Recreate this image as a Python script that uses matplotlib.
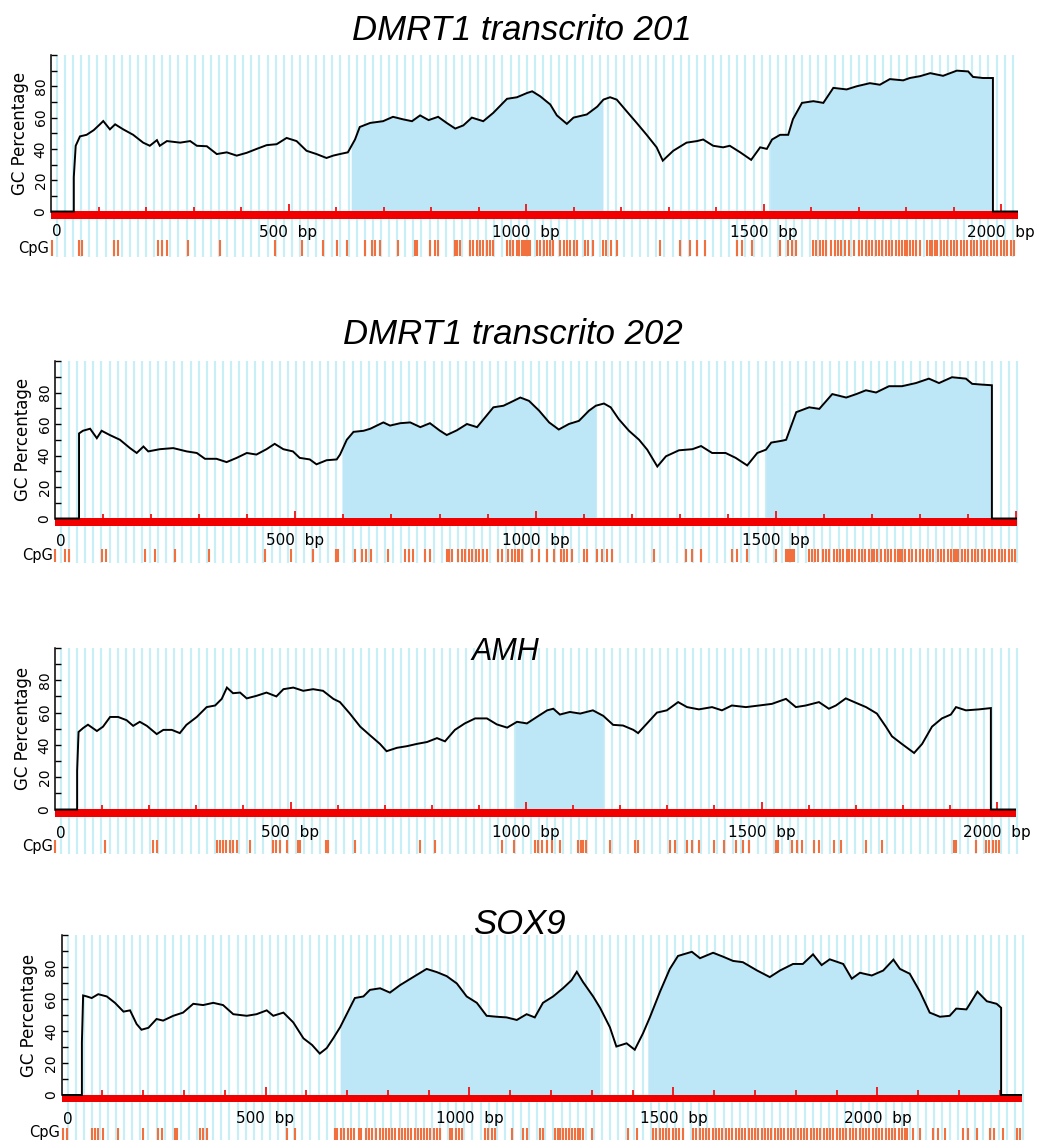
import numpy as np
import matplotlib
matplotlib.use("Agg")
import matplotlib.pyplot as plt
from matplotlib.transforms import offset_copy

W, H, DPI = 1039, 1140, 100

# ---------------- data ----------------
titles = ["DMRT1 transcrito 201", "DMRT1 transcrito 202", "AMH", "SOX9"]

# (position bp, GC %)
p1_profile = [(0, 0), (48, 0), (48, 22), (52, 42), (61, 48), (75, 49), (90, 52), (103, 55.7), (110, 57.8),
              (124, 52.5), (135, 55.7), (152, 52.5), (173, 49), (194, 44), (208, 42), (223, 45.6), (229, 42),
              (244, 45), (272, 44), (293, 45), (307, 42), (328, 41.7), (349, 36.7), (370, 37.8), (391, 35.7),
              (412, 37.5), (433, 40), (454, 42.4), (475, 43), (496, 47), (517, 45), (538, 38.8), (559, 36.7),
              (580, 34.2), (594, 35.7), (608, 36.7), (625, 37.8), (640, 46), (650, 54), (672, 56.6),
              (699, 57.7), (720, 60.5), (741, 58.9), (760, 57.7), (777, 61.4), (795, 58.4), (815, 60.5),
              (833, 56.6), (851, 53), (868, 55), (886, 60), (910, 57.7), (931, 63), (960, 72), (981, 73),
              (1002, 75.7), (1013, 76.8), (1030, 73.6), (1051, 68.4), (1065, 61.4), (1086, 56), (1100, 60),
              (1128, 62), (1150, 67), (1163, 71.5), (1177, 73), (1191, 71.5), (1212, 64), (1233, 56.6),
              (1254, 49), (1275, 41), (1288, 32.5), (1310, 38.8), (1338, 44), (1360, 45), (1373, 46),
              (1394, 42), (1415, 41), (1429, 42), (1451, 37.8), (1474, 33), (1493, 41), (1507, 40),
              (1518, 46), (1535, 49), (1552, 49), (1562, 59), (1581, 69.4), (1605, 70.5), (1626, 69.4),
              (1647, 79), (1675, 78), (1696, 80), (1724, 82), (1745, 81), (1766, 84.6), (1794, 83.8),
              (1808, 85.3), (1830, 86.5), (1851, 88.4), (1878, 86.7), (1907, 90), (1931, 89.5), (1941, 86),
              (1962, 85.3), (1983, 85.3), (1983, 0), (2035, 0)]
p1_islands = [(632, 1162), (1514, 1982)]
p1_len = 2035
p1_ticklabels = [0, 500, 1000, 1500, 2000]
p1_cpg = [2, 59, 65, 133, 142, 226, 234, 245, 289, 356, 472, 528, 573, 602, 623, 661, 675, 682, 693, 731,
          766, 771, 798, 808, 815, 851, 855, 861, 882, 889, 896, 903, 910, 917, 924, 931, 960, 966, 973,
          981, 986, 991, 996, 1001, 1005, 1008, 1023, 1030, 1037, 1044, 1051, 1057, 1072, 1079, 1086,
          1093, 1100, 1107, 1124, 1131, 1141, 1162, 1169, 1179, 1191, 1282, 1324, 1345, 1360, 1377, 1444,
          1455, 1476, 1535, 1552, 1560, 1568, 1604, 1611, 1618, 1625, 1632, 1643, 1650, 1657, 1664, 1672,
          1680, 1690, 1700, 1708, 1716, 1722, 1729, 1736, 1743, 1750, 1757, 1764, 1771, 1778, 1785, 1792,
          1797, 1802, 1808, 1815, 1822, 1830, 1845, 1850, 1855, 1860, 1866, 1873, 1880, 1887, 1894, 1901,
          1908, 1915, 1922, 1929, 1936, 1943, 1950, 1957, 1964, 1971, 1978, 1985, 1992, 1999, 2006, 2013,
          2020, 2027]

p2_profile = [(0, 0), (50, 0), (50, 54), (58, 55.7), (73, 57), (87, 51), (97, 55.7), (114, 53), (135, 50),
              (156, 44.7), (170, 41.6), (184, 45.7), (194, 42.6), (218, 44), (246, 44.7), (274, 42.6),
              (295, 41.6), (312, 37.9), (336, 37.9), (357, 35.8), (378, 38.5), (399, 41.6), (419, 40.6),
              (440, 44), (457, 47.4), (475, 44), (495, 42.6), (509, 38.5), (530, 37.5), (544, 34.4),
              (565, 37), (586, 37.5), (593, 40.6), (607, 50), (621, 55), (642, 55.7), (656, 57), (683, 61),
              (697, 59), (718, 60.5), (739, 61), (760, 58), (780, 60.5), (801, 55.7), (815, 53), (836, 56),
              (857, 60), (878, 58), (898, 65.4), (912, 70.6), (933, 71.6), (954, 74.7), (968, 76.8),
              (986, 74.7), (1007, 68.5), (1028, 61), (1048, 56.5), (1069, 60), (1090, 62), (1111, 68.5),
              (1125, 71.6), (1142, 73), (1156, 70.6), (1173, 63), (1194, 55.7), (1215, 50), (1232, 43.7),
              (1253, 33), (1271, 39.5), (1298, 43.3), (1326, 44), (1344, 46), (1367, 41.6), (1395, 41.6),
              (1416, 38.5), (1440, 33.7), (1461, 41.6), (1479, 43.7), (1490, 48.2), (1513, 49.4),
              (1521, 50), (1542, 67.5), (1569, 70.6), (1590, 69.6), (1617, 79), (1646, 76.8), (1667, 79),
              (1687, 81.4), (1708, 80), (1735, 84), (1762, 84), (1791, 86), (1818, 88.8), (1839, 86),
              (1866, 89.7), (1895, 88.8), (1908, 85.5), (1929, 85), (1949, 84.6), (1949, 0), (2001, 0)]
p2_islands = [(597, 1125), (1479, 1948)]
p2_len = 2001
p2_ticklabels = [0, 500, 1000, 1500]
p2_cpg = [0, 21, 29, 97, 106, 187, 208, 250, 321, 437, 491, 537, 585, 588, 624, 638, 647, 657, 693, 728,
          737, 745, 770, 780, 815, 820, 826, 839, 846, 853, 861, 868, 876, 883, 891, 898, 922, 930, 943,
          950, 957, 963, 965, 971, 992, 1007, 1023, 1038, 1053, 1059, 1065, 1075, 1100, 1107, 1128, 1138,
          1149, 1159, 1246, 1312, 1326, 1344, 1408, 1419, 1440, 1500, 1521, 1525, 1529, 1533, 1537, 1569,
          1575, 1581, 1587, 1597, 1604, 1611, 1620, 1626, 1633, 1640, 1647, 1651, 1658, 1665, 1672, 1679,
          1686, 1693, 1700, 1704, 1711, 1718, 1727, 1733, 1740, 1747, 1754, 1758, 1762, 1769, 1776, 1783,
          1792, 1799, 1806, 1813, 1820, 1827, 1836, 1843, 1850, 1857, 1864, 1871, 1875, 1879, 1886, 1893,
          1900, 1907, 1914, 1921, 1928, 1935, 1942, 1949, 1956, 1963, 1970, 1977, 1984, 1991, 1998]

p3_profile = [(0, 0), (47, 0), (47, 24), (50, 48), (60, 50.5), (70, 52.5), (89, 48.6), (102, 51.3),
              (117, 57.3), (134, 57.3), (152, 55.3), (166, 51.8), (180, 54.3), (195, 51.8), (216, 46.7),
              (230, 49.3), (248, 49.3), (265, 47.3), (279, 52.4), (301, 57.3), (322, 63.4), (340, 64.4),
              (354, 68.5), (365, 75.5), (378, 72), (393, 72.4), (407, 68.8), (428, 70.4), (449, 72.4),
              (470, 70), (485, 74.5), (506, 75.5), (527, 73.5), (548, 74.5), (569, 73.5), (591, 68.5),
              (605, 66.5), (626, 59.4), (648, 51.3), (669, 45.9), (690, 40.6), (704, 36.1), (726, 38.2),
              (747, 39.2), (768, 40.6), (790, 41.8), (811, 44.2), (828, 42.2), (849, 49.3), (870, 53.3),
              (892, 56.4), (917, 56.4), (938, 52.7), (960, 50.7), (981, 54.3), (1002, 53.3), (1023, 57.3),
              (1045, 61.4), (1058, 62.4), (1072, 58.8), (1093, 60.4), (1115, 59.4), (1142, 61.4),
              (1164, 58), (1185, 52.4), (1206, 52), (1228, 49.3), (1238, 47.3), (1257, 53.3), (1278, 60),
              (1299, 61.4), (1323, 66.5), (1342, 63.4), (1367, 62), (1395, 63.4), (1416, 61.4),
              (1437, 64.4), (1467, 63.4), (1495, 64.4), (1522, 65.4), (1552, 68.5), (1573, 63.4),
              (1594, 64.4), (1622, 66.5), (1643, 62.4), (1658, 64.4), (1679, 68.8), (1701, 66),
              (1722, 63.4), (1745, 59.4), (1764, 51.3), (1777, 45.3), (1798, 40.6), (1824, 35),
              (1841, 40.6), (1862, 51.3), (1883, 56.4), (1902, 58.8), (1913, 63.4), (1934, 61.4),
              (1962, 62), (1987, 62.8), (1987, 0), (2040, 0)]
p3_islands = [(977, 1164)]
p3_len = 2040
p3_ticklabels = [0, 500, 1000, 1500, 2000]
p3_cpg = [0, 106, 208, 216, 343, 350, 357, 364, 371, 378, 387, 414, 463, 470, 477, 492, 516, 520, 575, 580,
          637, 775, 807, 949, 975, 1019, 1026, 1034, 1044, 1055, 1072, 1110, 1116, 1121, 1127, 1178, 1231,
          1238, 1306, 1316, 1342, 1352, 1367, 1399, 1420, 1446, 1460, 1474, 1531, 1535, 1565, 1575, 1586,
          1611, 1622, 1654, 1669, 1722, 1756, 1909, 1913, 1955, 1977, 1984, 1991, 1998, 2004]

p4_profile = [(0, 0), (50, 0), (50, 33), (53, 62.2), (62, 61.6), (74, 60.6), (90, 63), (111, 61.6),
              (131, 57.6), (152, 52.1), (168, 52.9), (184, 44.4), (196, 40.8), (213, 42), (233, 47.5),
              (249, 46.5), (274, 49.5), (298, 51.5), (323, 57), (347, 56.2), (372, 57.6), (396, 56.2),
              (421, 50.5), (454, 49.5), (478, 50.5), (503, 52.9), (519, 49.5), (544, 51.5), (568, 45.4),
              (593, 35.4), (614, 31.3), (633, 25.9), (650, 29.3), (666, 35.4), (683, 42.4), (699, 50.5),
              (719, 60.6), (740, 61.6), (756, 65.7), (781, 66.7), (805, 64), (830, 68.7), (862, 73.7),
              (895, 78.8), (920, 76.8), (944, 74.3), (969, 69.7), (993, 61.6), (1018, 57.6), (1042, 49.5),
              (1067, 48.9), (1091, 48.5), (1116, 46.9), (1140, 50.5), (1160, 48.5), (1180, 57.6),
              (1205, 61.6), (1229, 66.7), (1250, 71.7), (1263, 77), (1278, 70.7), (1303, 61.6),
              (1320, 54.5), (1344, 42.4), (1360, 30.3), (1385, 32.3), (1405, 28.3), (1425, 38.4),
              (1442, 48.5), (1467, 64.6), (1491, 78.8), (1511, 86.9), (1545, 89.5), (1565, 85.5),
              (1597, 88.9), (1621, 86.5), (1646, 83.8), (1670, 83), (1705, 77.8), (1736, 73.7),
              (1761, 77.8), (1793, 81.9), (1817, 81.9), (1842, 87.9), (1863, 81.2), (1883, 84.8),
              (1916, 81.9), (1937, 72.7), (1957, 76.4), (1986, 74.7), (2014, 77.8), (2039, 84.6),
              (2055, 78.8), (2079, 75.8), (2104, 64.6), (2128, 51.5), (2153, 48.9), (2177, 49.5),
              (2193, 54), (2218, 53.5), (2245, 64.6), (2268, 58.6), (2292, 57), (2303, 54.5), (2303, 0),
              (2354, 0)]
p4_islands = [(683, 1320), (1437, 2302)]
p4_len = 2354
p4_ticklabels = [0, 500, 1000, 1500, 2000]
p4_cpg = [4, 13, 74, 82, 90, 102, 139, 200, 237, 246, 278, 281, 283, 340, 348, 356, 552, 572, 670, 676,
          684, 692, 703, 710, 716, 728, 735, 747, 754, 762, 770, 781, 789, 796, 803, 811, 818, 826, 835,
          842, 850, 857, 866, 873, 881, 889, 897, 904, 912, 920, 928, 951, 958, 966, 974, 981, 1038, 1046,
          1054, 1062, 1104, 1131, 1141, 1172, 1180, 1209, 1216, 1223, 1230, 1237, 1244, 1251, 1258, 1265,
          1272, 1278, 1300, 1388, 1410, 1450, 1458, 1466, 1474, 1482, 1490, 1498, 1506, 1514, 1523, 1548,
          1556, 1564, 1572, 1580, 1588, 1596, 1604, 1612, 1620, 1628, 1636, 1644, 1652, 1660, 1668, 1676,
          1684, 1692, 1700, 1708, 1716, 1724, 1732, 1740, 1748, 1756, 1764, 1772, 1780, 1788, 1796, 1804,
          1812, 1820, 1828, 1836, 1844, 1852, 1860, 1868, 1876, 1884, 1892, 1900, 1908, 1916, 1924, 1932,
          1940, 1948, 1956, 1964, 1972, 1980, 1988, 1996, 2004, 2012, 2020, 2028, 2036, 2044, 2052, 2060,
          2068, 2072, 2087, 2104, 2136, 2148, 2166, 2210, 2222, 2244, 2275, 2285, 2307, 2342, 2350]

# ---------------- layout (pixels) ----------------
layout = [
    dict(x0=51, sx=0.475, y0=211.5, sy=1.565, lab=20.5, row=(28.5, 44.5), cpgy=36.5,
         tx=522, ty=30, tfs=25, ylx=20),
    dict(x0=55, sx=0.4807, y0=518.5, sy=1.575, lab=22.5, row=(30.5, 43.5), cpgy=37,
         tx=513, ty=335, tfs=25, ylx=23),
    dict(x0=55, sx=0.471, y0=809.5, sy=1.615, lab=23.5, row=(30.5, 43.5), cpgy=37,
         tx=505, ty=652, tfs=22, ylx=23),
    dict(x0=61.5, sx=0.408, y0=1095, sy=1.60, lab=24.0, row=(33.0, 50.0), cpgy=37.5,
         tx=519, ty=925, tfs=25, ylx=29),
]
datasets = [
    (p1_profile, p1_islands, p1_len, p1_ticklabels, p1_cpg),
    (p2_profile, p2_islands, p2_len, p2_ticklabels, p2_cpg),
    (p3_profile, p3_islands, p3_len, p3_ticklabels, p3_cpg),
    (p4_profile, p4_islands, p4_len, p4_ticklabels, p4_cpg),
]

STRIPE = "#c9eff6"
FILL = "#bde6f6"
RED = "#f20000"
CPG = "#f2703e"

fig = plt.figure(figsize=(W / DPI, H / DPI), dpi=DPI)
fig.patch.set_facecolor("white")


def fx(px):
    return px / W


def fy(py):
    return 1 - py / H


for title, L, (prof, isl, length, tlabels, cpg) in zip(titles, layout, datasets):
    x0, sx, y0, sy = L["x0"], L["sx"], L["y0"], L["sy"]
    top = y0 - 100 * sy
    bottom = min(y0 + L["row"][1] + 1, H)
    ax = fig.add_axes([fx(x0), fy(bottom), length * sx / W, (bottom - top) / H])
    ax.set_xlim(0, length)
    ybot = -(bottom - y0) / sy
    ax.set_ylim(ybot, 100)
    ax.patch.set_alpha(0)
    for s in ["top", "right", "bottom"]:
        ax.spines[s].set_visible(False)
    ax.spines["left"].set_bounds(0, 100)
    ax.spines["left"].set_linewidth(1.1)
    ax.spines["left"].set_zorder(6)
    ax.set_xticks([])
    ax.set_yticks(np.arange(0, 101, 10))
    ax.set_yticklabels([str(v) if (v % 20 == 0 and v < 100) else "" for v in range(0, 101, 10)])
    ax.tick_params(axis="y", direction="in", length=4, width=1.0, pad=2.5, labelsize=10,
                   labelrotation=90)
    for lbl in ax.get_yticklabels():
        lbl.set_va("center")

    # background stripes
    xs_px = np.arange(x0 + 6, x0 + length * sx + 3, 8.1)
    ax.vlines((xs_px - x0) / sx, ybot, 100, color=STRIPE, lw=1.6, zorder=0, clip_on=False)

    bp = np.array([p[0] for p in prof], dtype=float)
    gc = np.array([p[1] for p in prof], dtype=float)

    # CpG islands (shaded)
    for a, b in isl:
        m = (bp > a) & (bp < b)
        xs = np.concatenate([[a], bp[m], [b]])
        ys = np.interp(xs, bp, gc)
        ax.fill_between(xs, 0, ys, color=FILL, lw=0, zorder=1)

    # red baseline and its ticks
    ax.axhspan(-7.0 / sy, 0.5 / sy, color=RED, lw=0, zorder=3)
    ticks = np.arange(100, length + 1, 100)
    minor = ticks[ticks % 500 != 0]
    major = ticks[ticks % 500 == 0]
    ax.vlines(minor, 0.5 / sy, 5.0 / sy, color=RED, lw=1.2, zorder=3)
    ax.vlines(major, 0.5 / sy, 8.0 / sy, color=RED, lw=1.2, zorder=3)

    # GC profile
    ax.plot(bp, gc, color="black", lw=1.4, zorder=5, solid_joinstyle="miter")

    # x labels
    for t in tlabels:
        if t == 0:
            tr = offset_copy(ax.transData, fig=fig, x=6, y=0, units="dots")
            ax.text(t, -L["lab"] / sy, "0", ha="center", va="center", fontsize=11, transform=tr)
        else:
            ax.text(t, -L["lab"] / sy, f"{t}  bp", ha="center", va="center", fontsize=11)

    # CpG marks
    ax.vlines(cpg, -L["row"][0] / sy, -L["row"][1] / sy, color=CPG, lw=1.5, zorder=2, clip_on=False)
    fig.text(fx(x0 - 2), fy(y0 + L["cpgy"]), "CpG", ha="right", va="center", fontsize=10.5)

    # y label
    fig.text(fx(L["ylx"]), fy(y0 - 50 * sy), "GC Percentage", rotation=90, ha="center",
             va="center", fontsize=12)

    # title
    fig.text(fx(L["tx"]), fy(L["ty"]), title, ha="center", va="center", fontsize=L["tfs"],
             style="italic", family="Liberation Sans", zorder=10)

fig.savefig("out.png", dpi=DPI, facecolor="white")
